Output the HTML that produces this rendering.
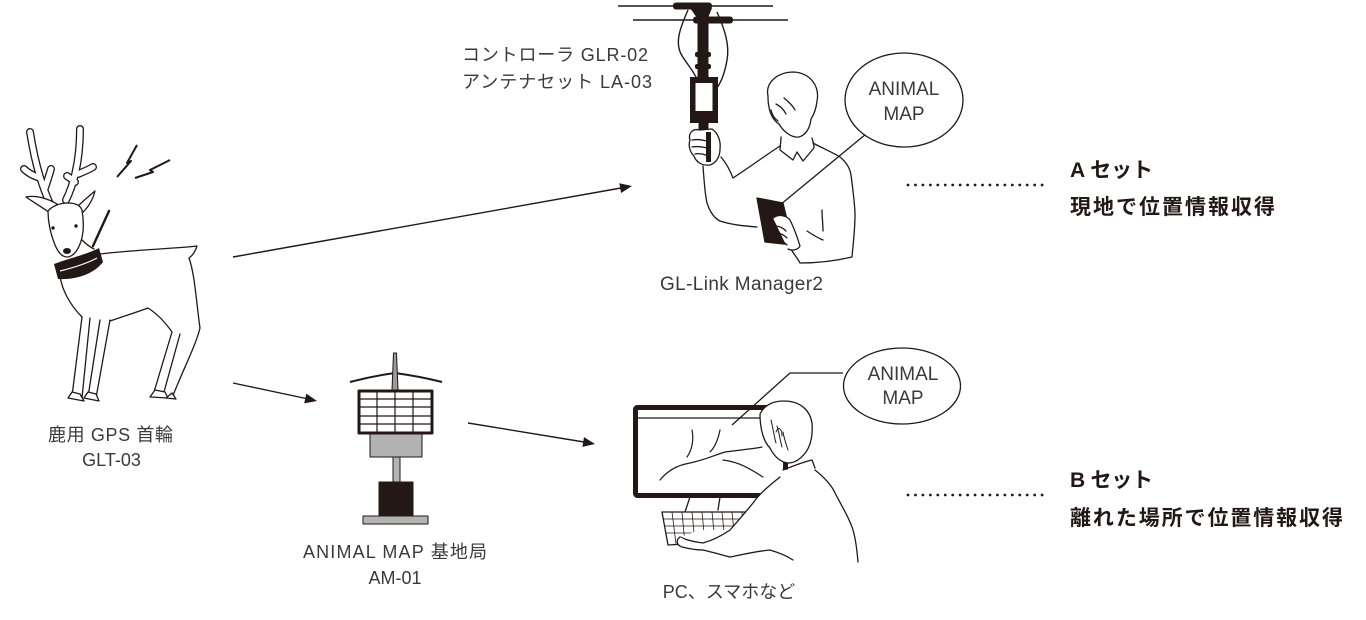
<!DOCTYPE html>
<html><head><meta charset="utf-8"><style>
html,body{margin:0;padding:0;background:#fff;}
svg{display:block;}
text{font-family:"Liberation Sans","Noto Sans CJK JP",sans-serif;}
</style></head><body>
<svg width="1366" height="620" viewBox="0 0 1366 620" xmlns="http://www.w3.org/2000/svg">
<rect width="1366" height="620" fill="#fff"/>

<!-- ============ DEER ============ -->
<g fill="none" stroke-linecap="round" stroke-linejoin="round">
  <g stroke="#231815" stroke-width="8">
    <path d="M50 204 C44 190 36 170 30 132"/>
    <path d="M40 178 C34 176 28 173 24 169"/>
    <path d="M45 188 C47 182 49 176 51 169"/>
    <path d="M66 200 C72 188 80 165 80 129"/>
    <path d="M78 174 C83 172 88 170 93 167"/>
    <path d="M75 182 C73 180 70 178 67 176"/>
  </g>
  <g stroke="#fff" stroke-width="5.4">
    <path d="M50 204 C44 190 36 170 30 132"/>
    <path d="M40 178 C34 176 28 173 24 169"/>
    <path d="M45 188 C47 182 49 176 51 169"/>
    <path d="M66 200 C72 188 80 165 80 129"/>
    <path d="M78 174 C83 172 88 170 93 167"/>
    <path d="M75 182 C73 180 70 178 67 176"/>
  </g>
</g>
<g stroke="#231815" stroke-width="1.3" fill="#fff" stroke-linejoin="round" stroke-linecap="round">
  <path d="M50 213 C42 207 33 202 26 197 C35 195 47 198 57 204 Z"/>
  <path d="M77 207 C83 201 89 196 95 191 C93 199 89 207 81 214 Z"/>
  <path d="M48 211 C52 206 60 203 68 203 C75 203 80 205 82 210 C84 222 84 234 80 244 C77 252 72 257 67 257 C62 257 58 252 55 245 C51 235 48 222 48 211 Z"/>
  <path d="M82 240 C86 244 90 247 94 249" fill="none"/>
  <path d="M100 254 C130 250 170 249 197 246 C195 252 192 256 189 258 C195 275 196 300 200 328 C196 345 182 372 172 398" fill="none"/>
  <path d="M60 276 C62 290 70 305 82 317" fill="none"/>
  <path d="M110 321 C125 316 140 311 148 308 C156 313 165 322 172 332" fill="none"/>
  <path d="M82 317 L72 396 M90 318 L82 398" fill="none"/>
  <path d="M100 320 L88 397 M110 320 L96 398" fill="none"/>
  <path d="M68 398 L72 392 L80 394 L84 401 Z"/>
  <path d="M84 398 L88 392 L96 394 L99 401 Z"/>
  <path d="M172 332 L154 392 M180 334 L164 392" fill="none"/>
  <path d="M150 397 L155 390 L165 392 L168 398 Z"/>
  <path d="M166 398 L172 393 L176 399 Z"/>
</g>
<circle cx="53" cy="228" r="1.7" fill="#231815"/>
<circle cx="76" cy="226" r="1.7" fill="#231815"/>
<ellipse cx="67" cy="251" rx="4" ry="3" fill="#231815"/>
<path d="M54 264 C70 258 88 254 99 248 L103 262 C94 274 76 280 58 279 Z" fill="#231815"/>
<path d="M60 271 C72 268 86 264 97 258" stroke="#fff" stroke-width="1.2" fill="none"/>
<line x1="93" y1="246" x2="109" y2="211" stroke="#231815" stroke-width="2.4" stroke-linecap="round"/>
<path d="M137 145 L127 163 L131 161 L117 177" stroke="#231815" stroke-width="2" fill="none" stroke-linejoin="round"/>
<path d="M170 160 L150 170 L153 172 L135 178" stroke="#231815" stroke-width="2" fill="none" stroke-linejoin="round"/>

<text x="110.5" y="441" font-size="18" fill="#3a3a3a" text-anchor="middle" textLength="125">鹿用 GPS 首輪</text>
<text x="111.5" y="466" font-size="18" fill="#3a3a3a" text-anchor="middle">GLT-03</text>

<!-- ============ ARROWS ============ -->
<g stroke="#231815" stroke-width="1.4" fill="#231815">
  <line x1="233" y1="257" x2="621" y2="188"/>
  <polygon points="632,186 621.1,193.0 619.3,183.2" stroke="none"/>
  <line x1="233" y1="383" x2="306" y2="398.5"/>
  <polygon points="317,401 304.2,403.4 306.3,393.6" stroke="none"/>
  <line x1="468" y1="423" x2="584" y2="442"/>
  <polygon points="595,444 582.4,446.9 584.0,437.1" stroke="none"/>
</g>

<!-- ============ BASE STATION ============ -->
<g stroke="#231815" stroke-linejoin="round">
  <path d="M350 382 C365 378 380 375 395 373 C410 375 426 378 442 382" fill="none" stroke-width="2"/>
  <path d="M393.5 353 L392 390 L398 390 L396.5 353 Z" fill="#9a9a9a" stroke-width="1"/>
  <rect x="359" y="391" width="73" height="42" fill="#fff" stroke-width="3"/>
  <g stroke-width="1.2">
    <line x1="377" y1="392" x2="377" y2="432"/>
    <line x1="395" y1="392" x2="395" y2="432"/>
    <line x1="413" y1="392" x2="413" y2="432"/>
    <line x1="360" y1="399" x2="431" y2="399"/>
    <line x1="360" y1="407" x2="431" y2="407"/>
    <line x1="360" y1="416" x2="431" y2="416"/>
    <line x1="360" y1="424" x2="431" y2="424"/>
  </g>
  <rect x="370" y="434" width="52" height="23" fill="#b3b3b3" stroke-width="1"/>
  <rect x="393" y="457" width="7" height="25" fill="#b3b3b3" stroke-width="1"/>
  <rect x="379" y="482" width="34" height="34" fill="#231815" stroke-width="1"/>
  <rect x="363" y="516" width="65" height="8" fill="#b3b3b3" stroke-width="1"/>
</g>
<text x="395" y="558" font-size="18" fill="#3a3a3a" text-anchor="middle" textLength="184">ANIMAL MAP 基地局</text>
<text x="395" y="584" font-size="18" fill="#3a3a3a" text-anchor="middle">AM-01</text>

<!-- ============ ANTENNA / CONTROLLER ============ -->
<g stroke="#231815" fill="#231815">
  <line x1="618" y1="6" x2="773" y2="6" stroke-width="1.6"/>
  <line x1="633" y1="20" x2="788" y2="20" stroke-width="1.6"/>
  <rect x="673" y="2.5" width="39" height="7" rx="3" stroke="none"/>
  <rect x="693" y="16.5" width="40" height="7" rx="3" stroke="none"/>
  <path d="M690 8 L712 8 L708 18 L697 18 Z" stroke="none"/>
  <rect x="697.5" y="8" width="11" height="70" stroke="none"/>
  <rect x="695" y="52" width="16" height="5" rx="2" stroke="none"/>
  <rect x="695" y="64" width="16" height="5" rx="2" stroke="none"/>
  <rect x="690" y="77" width="28" height="46" stroke="none"/>
  <rect x="698.5" y="122" width="10" height="40" stroke="none"/>
  <path d="M688 10 C680 28 675 42 681 54 C686 63 693 70 697 79" fill="none" stroke-width="1.4"/>
  <path d="M717 12 C724 28 730 44 727 60 C725 72 721 82 717 88" fill="none" stroke-width="1.4"/>
</g>
<rect x="695.5" y="83" width="17" height="28" fill="#fff"/>
<text x="462" y="61" font-size="18" fill="#3a3a3a" textLength="186">コントローラ GLR-02</text>
<text x="462" y="88" font-size="18" fill="#3a3a3a" textLength="190">アンテナセット LA-03</text>

<!-- ============ PERSON A ============ -->
<g stroke="#231815" stroke-width="1.3" fill="none" stroke-linecap="round" stroke-linejoin="round">
  <path d="M700 130 C692 128 688 134 690 140 C688 146 690 152 694 156 C696 162 702 166 710 165 C716 163 720 157 720 149 C721 141 718 133 712 129 Z" fill="#fff"/>
  <path d="M692 140 C697 139 703 140 707 141 M692 147 C697 146 703 147 707 148 M695 154 C699 153 703 154 706 155"/>
  <rect x="706" y="132" width="5" height="30" fill="#231815" stroke="none"/>
  <path d="M703 166 C704 180 705 195 707 203 C710 212 714 218 720 221 C732 225 745 226 757 227"/>
  <path d="M721 157 C726 163 730 170 733 178 C750 167 766 155 780 146"/>
  <path d="M768 96 C765 82 778 72 794 72 C810 73 820 86 817 101 C816 110 813 116 811 119 C810 128 806 135 799 137 C791 138 783 131 779 124 C774 121 770 114 769 107 C768 103 768 99 768 96 Z" fill="#fff"/>
  <path d="M776 104 C780 106 784 110 786 114 M784 98 C789 102 793 106 795 110 M771 110 C772 115 775 119 778 121"/>
  <path d="M781 137 C781 142 780 146 780 150 L793 160 L797 152 L803 161 L814 148 C814 144 813 141 812 138"/>
  <path d="M813 143 C822 148 832 152 840 157 C846 162 850 168 851 175 C853 190 855 205 855 215 C855 230 853 245 852 257 C835 261 818 263 800 263 C796 256 792 252 790 247"/>
  <path d="M822 210 C822 217 823 224 823 231"/>
  <path d="M807 231 C813 235 818 238 823 240"/>
  <path d="M757 198 L783 203 L793 245 L765 242 Z" fill="#231815"/>
  <path d="M773 218 C778 214 786 215 790 220 C794 228 797 236 800 246 C798 250 792 251 788 249" fill="#fff"/>
  <path d="M775 226 C779 226 783 228 786 231 M776 233 C780 233 784 235 787 238 M778 240 C781 240 784 242 787 245"/>
</g>
<text x="741.5" y="290" font-size="19" fill="#3a3a3a" text-anchor="middle" textLength="163">GL-Link Manager2</text>

<line x1="866" y1="134" x2="780" y2="205" stroke="#231815" stroke-width="1.3"/>
<ellipse cx="904" cy="100" rx="59" ry="47" fill="#fff" stroke="#231815" stroke-width="1.3"/>
<text x="904" y="95" font-size="19" fill="#3a3a3a" text-anchor="middle">ANIMAL</text>
<text x="904" y="120" font-size="19" fill="#3a3a3a" text-anchor="middle">MAP</text>

<!-- ============ PERSON B / PC ============ -->
<g stroke="#231815" fill="none" stroke-linecap="round" stroke-linejoin="round">
  <rect x="635.5" y="407.5" width="150" height="88" rx="2" stroke-width="5" fill="#fff"/>
  <line x1="638" y1="418" x2="783" y2="418" stroke-width="1.2"/>
  <g stroke-width="1.2">
    <path d="M692 430 C694 440 692 450 687 457"/>
    <path d="M660 480 C668 470 678 465 690 463 C705 460 715 455 725 452 C740 450 752 449 762 447"/>
    <path d="M720 430 C718 440 715 447 710 452"/>
    <path d="M723 460 C740 462 752 470 763 477"/>
  </g>
  <path d="M690 497 L685 512 M720 497 L718 510" stroke-width="1.3"/>
  <path d="M662 512 L748 512 L752 540 L668 545 Z" stroke-width="1.3" fill="#fff"/>
  <g stroke-width="0.8">
    <line x1="663" y1="519" x2="749" y2="519"/>
    <line x1="665" y1="526" x2="750" y2="526"/>
    <line x1="666" y1="533" x2="751" y2="533"/>
    <line x1="672" y1="512" x2="676" y2="544"/>
    <line x1="682" y1="512" x2="685" y2="544"/>
    <line x1="692" y1="512" x2="695" y2="543"/>
    <line x1="702" y1="512" x2="705" y2="543"/>
    <line x1="712" y1="512" x2="715" y2="542"/>
    <line x1="722" y1="512" x2="725" y2="542"/>
    <line x1="732" y1="512" x2="735" y2="541"/>
    <line x1="742" y1="512" x2="744" y2="541"/>
  </g>
  <path d="M780 470 L815 468 C835 490 850 520 858 562 L793 562 C780 556 760 552 730 557 L703 550 L680 537 L700 530 L730 530 L753 503 Z" fill="#fff" stroke="none"/>
  <path d="M760 414 C765 404 774 401 784 401 C800 401 810 410 812 423 C813 436 810 446 806 452 C800 460 794 463 788 463 C780 462 774 456 770 448 C764 442 760 430 760 414 Z" fill="#fff" stroke-width="1.3"/>
  <path d="M771 420 C773 428 774 436 776 443 M777 426 C779 432 780 440 782 447 M783 432 C784 438 786 444 788 450" stroke-width="1"/>
  <path d="M776 432 C778 426 782 428 782 436" stroke-width="1"/>
  <path d="M783 470 C793 466 803 462 812 460 L815 468" stroke-width="1.3"/>
  <path d="M815 470 C825 478 832 486 835 493 C843 508 850 520 853 530 C856 540 857 550 858 562" stroke-width="1.3"/>
  <path d="M780 477 C770 485 760 493 753 503 C745 513 737 522 730 530 C720 537 710 541 703 543 C695 542 686 540 680 537" stroke-width="1.3"/>
  <path d="M703 550 C712 552 722 555 730 557 C745 554 758 551 770 550 C780 553 787 556 793 560" stroke-width="1.3"/>
  <path d="M680 537 C676 540 676 545 682 547 C690 549 697 550 703 550" stroke-width="1.3" fill="#fff"/>
</g>
<text x="729" y="598" font-size="18" fill="#3a3a3a" text-anchor="middle">PC、スマホなど</text>

<path d="M843 373 L790 373 L732 425" stroke="#231815" stroke-width="1.3" fill="none"/>
<ellipse cx="902" cy="386" rx="58.5" ry="38" fill="#fff" stroke="#231815" stroke-width="1.3"/>
<text x="903" y="380" font-size="19" fill="#3a3a3a" text-anchor="middle">ANIMAL</text>
<text x="903" y="404" font-size="19" fill="#3a3a3a" text-anchor="middle">MAP</text>

<!-- ============ RIGHT TEXT ============ -->
<g stroke="#231815" stroke-width="2.8" stroke-linecap="round" stroke-dasharray="0 7.45">
  <line x1="908" y1="185" x2="1043" y2="185"/>
  <line x1="908" y1="495" x2="1043" y2="495"/>
</g>
<g fill="#231815" font-weight="bold" font-size="21">
  <text x="1070" y="177" textLength="83">A セット</text>
  <text x="1070" y="214" textLength="205">現地で位置情報収得</text>
  <text x="1070" y="487" textLength="83">B セット</text>
  <text x="1070" y="525" textLength="273">離れた場所で位置情報収得</text>
</g>
</svg>
</body></html>
